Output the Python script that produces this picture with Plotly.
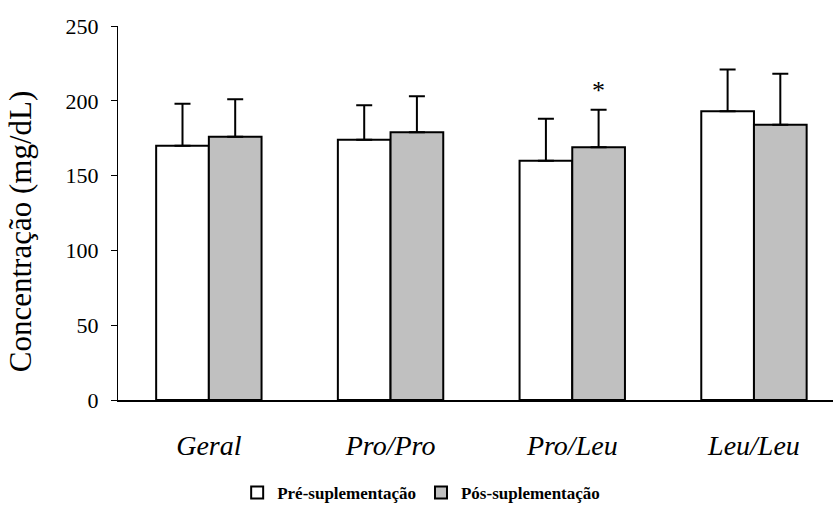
import plotly.graph_objects as go

categories = ["Geral", "Pro/Pro", "Pro/Leu", "Leu/Leu"]
pre_values = [170, 174, 160, 193]
pre_sd = [28, 23, 28, 28]
pos_values = [176, 179, 169, 184]
pos_sd = [25, 24, 25, 34]
series_names = ["Pré-suplementação", "Pós-suplementação"]
significant = [False, False, True, False]  # post vs pre
y_ticks = [0, 50, 100, 150, 200, 250]
y_title = "Concentração (mg/dL)"

serif = "Liberation Serif"
xpos = list(range(len(categories)))

fig = go.Figure()
for name, vals, sd, fill in [
    (series_names[0], pre_values, pre_sd, "#ffffff"),
    (series_names[1], pos_values, pos_sd, "#c0c0c0"),
]:
    fig.add_trace(go.Bar(
        x=xpos, y=vals, name=f"<b>{name}</b>",
        marker=dict(color=fill, line=dict(color="#000000", width=2)),
        error_y=dict(type="data", symmetric=False, array=sd,
                     arrayminus=[0] * len(sd), color="#000000",
                     thickness=2, width=8),
    ))

# significance marker above the post-supplementation error bar
for i, flag in enumerate(significant):
    if flag:
        fig.add_annotation(
            x=i + 0.143, y=pos_values[i] + pos_sd[i] + 13, text="*",
            showarrow=False, font=dict(family=serif, size=26, color="#000"),
            xref="x", yref="y",
        )

# vertical axis title, set slightly below the plot's mid-height
fig.add_annotation(
    text=y_title, textangle=-90, showarrow=False,
    xref="paper", yref="paper", x=0, y=0.45,
    xanchor="right", yanchor="middle", xshift=-78,
    font=dict(family=serif, size=31, color="#000"),
)

fig.update_layout(
    width=834, height=516,
    margin=dict(l=118, r=1, t=26, b=116),
    paper_bgcolor="white", plot_bgcolor="white",
    barmode="group", bargap=0.42, bargroupgap=0,
    showlegend=True,
    legend=dict(orientation="h", xref="container", yref="container",
                x=0.505, y=0.01, xanchor="center", yanchor="bottom",
                font=dict(family=serif, size=17, color="#000"),
                itemwidth=30, traceorder="normal"),
    font=dict(family=serif, color="#000"),
)
fig.update_xaxes(
    range=[-0.5, 3.435], tickvals=xpos,
    ticktext=[f"<i>{c}</i>" for c in categories],
    tickfont=dict(family=serif, size=28, color="#000"),
    showline=True, linecolor="#000", linewidth=1.5,
    ticks="", showgrid=False, zeroline=False, ticklabelstandoff=20,
)
fig.update_yaxes(
    range=[0, 250], tickvals=y_ticks,
    tickfont=dict(family=serif, size=22, color="#000"),
    showline=True, linecolor="#000", linewidth=1,
    ticks="outside", ticklen=6, tickcolor="#000", showgrid=False,
    zeroline=False, ticklabelstandoff=8,
)

fig.write_html("out.html")
